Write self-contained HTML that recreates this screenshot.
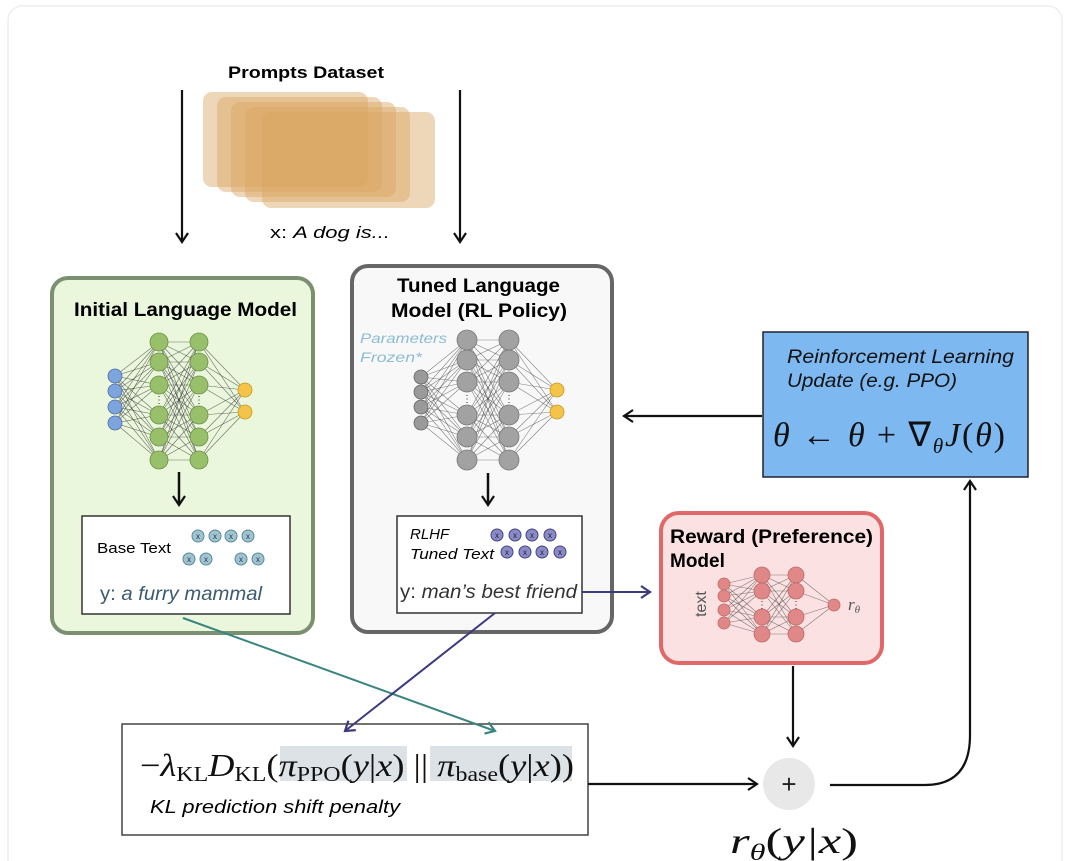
<!DOCTYPE html>
<html><head><meta charset="utf-8"><style>
html,body{margin:0;padding:0;background:#fff;}
svg{display:block;font-family:"Liberation Sans",sans-serif;}
.m{font-family:"Liberation Serif",serif;}
</style></head><body>
<svg id="s" width="1080" height="861" viewBox="0 0 1080 861" xmlns="http://www.w3.org/2000/svg">
<defs>
<marker id="ak" markerWidth="14" markerHeight="14" refX="10" refY="7" orient="auto" markerUnits="userSpaceOnUse"><path d="M1,1 L10,7 L1,13" fill="none" stroke="#111" stroke-width="2.2"/></marker>
<marker id="an" markerWidth="14" markerHeight="14" refX="10" refY="7" orient="auto" markerUnits="userSpaceOnUse"><path d="M1,1 L10,7 L1,13" fill="none" stroke="#3b3b80" stroke-width="2.2"/></marker>
<marker id="at" markerWidth="14" markerHeight="14" refX="10" refY="7" orient="auto" markerUnits="userSpaceOnUse"><path d="M1,1 L10,7 L1,13" fill="none" stroke="#3a8580" stroke-width="2.2"/></marker>
</defs>
<rect x="8" y="6" width="1054" height="870" rx="14" fill="#fff" stroke="#eee" stroke-width="1.5"/>

<text x="228" y="78" font-size="17" font-weight="bold" textLength="156" lengthAdjust="spacingAndGlyphs">Prompts Dataset</text>
<g fill="#d9a662" fill-opacity="0.45">
<rect x="203" y="92" width="165" height="95" rx="9"/>
<rect x="217" y="97" width="165" height="95" rx="9"/>
<rect x="231" y="102" width="165" height="95" rx="9"/>
<rect x="245" y="107" width="165" height="95" rx="9"/>
<rect x="262" y="112" width="173" height="96" rx="9"/>
</g>
<text x="270" y="238" font-size="17" textLength="120" lengthAdjust="spacingAndGlyphs">x: <tspan font-style="italic">A dog is...</tspan></text>
<line x1="182" y1="90" x2="182" y2="242" stroke="#111" stroke-width="2.2" marker-end="url(#ak)"/>
<line x1="460" y1="90" x2="460" y2="242" stroke="#111" stroke-width="2.2" marker-end="url(#ak)"/>

<rect x="52" y="278" width="261" height="355" rx="16" fill="#eaf7dc" stroke="#7a9070" stroke-width="4"/>
<text x="74" y="316" font-size="19" font-weight="bold" textLength="223" lengthAdjust="spacingAndGlyphs">Initial Language Model</text>
<g id="nn1"></g>
<line x1="179" y1="472" x2="179" y2="505" stroke="#111" stroke-width="2.5" marker-end="url(#ak)"/>
<rect x="82" y="516" width="208" height="98" fill="#fff" stroke="#333" stroke-width="1.5"/>
<text x="97" y="553" font-size="15" textLength="74" lengthAdjust="spacingAndGlyphs">Base Text</text>
<g fill="#9fc3cf" stroke="#5a8a9a" stroke-width="1">
<circle cx="198" cy="536" r="6"/><circle cx="215" cy="536" r="6"/><circle cx="231" cy="536" r="6"/><circle cx="248" cy="536" r="6"/>
<circle cx="189" cy="559" r="6"/><circle cx="206" cy="559" r="6"/><circle cx="241" cy="559" r="6"/><circle cx="258" cy="559" r="6"/>
</g>
<g font-size="8" text-anchor="middle" fill="#335">
<text x="198" y="539">x</text><text x="215" y="539">x</text><text x="231" y="539">x</text><text x="248" y="539">x</text>
<text x="189" y="562">x</text><text x="206" y="562">x</text><text x="241" y="562">x</text><text x="258" y="562">x</text>
</g>
<text x="100" y="600" font-size="19" fill="#3b5b6e" textLength="162" lengthAdjust="spacingAndGlyphs">y: <tspan font-style="italic">a furry mammal</tspan></text>

<rect x="352" y="266" width="260" height="366" rx="16" fill="#f8f8f8" stroke="#666" stroke-width="4"/>
<text x="397" y="292" font-size="19" font-weight="bold" textLength="163" lengthAdjust="spacingAndGlyphs">Tuned Language</text>
<text x="391" y="317" font-size="19" font-weight="bold" textLength="176" lengthAdjust="spacingAndGlyphs">Model (RL Policy)</text>
<text x="360" y="343" font-size="14" font-style="italic" fill="#8cbdd3" textLength="87" lengthAdjust="spacingAndGlyphs">Parameters</text>
<text x="360" y="362" font-size="14" font-style="italic" fill="#8cbdd3" textLength="62" lengthAdjust="spacingAndGlyphs">Frozen*</text>
<g id="nn2"></g>
<line x1="488" y1="473" x2="488" y2="505" stroke="#111" stroke-width="2.5" marker-end="url(#ak)"/>
<rect x="397" y="516" width="185" height="97" fill="#fff" stroke="#333" stroke-width="1.5"/>
<text x="410" y="539" font-size="15" font-style="italic">RLHF</text>
<text x="410" y="559" font-size="15" font-style="italic" textLength="84" lengthAdjust="spacingAndGlyphs">Tuned Text</text>
<g fill="#8a8ac8" stroke="#44447a" stroke-width="1">
<circle cx="497" cy="535" r="6"/><circle cx="515" cy="535" r="6"/><circle cx="532" cy="535" r="6"/><circle cx="550" cy="535" r="6"/>
<circle cx="507" cy="552" r="6"/><circle cx="525" cy="552" r="6"/><circle cx="542" cy="552" r="6"/><circle cx="560" cy="552" r="6"/>
</g>
<g font-size="8" text-anchor="middle" fill="#223">
<text x="497" y="538">x</text><text x="515" y="538">x</text><text x="532" y="538">x</text><text x="550" y="538">x</text>
<text x="507" y="555">x</text><text x="525" y="555">x</text><text x="542" y="555">x</text><text x="560" y="555">x</text>
</g>
<text x="400" y="598" font-size="19" fill="#333" textLength="177" lengthAdjust="spacingAndGlyphs">y: <tspan font-style="italic">man’s best friend</tspan></text>

<rect x="763" y="332" width="265" height="145" fill="#7db8f0" stroke="#223" stroke-width="1.5"/>
<text x="787" y="363" font-size="19" font-style="italic" fill="#111" textLength="227" lengthAdjust="spacingAndGlyphs">Reinforcement Learning</text>
<text x="787" y="387" font-size="19" font-style="italic" fill="#111" textLength="170" lengthAdjust="spacingAndGlyphs">Update (e.g. PPO)</text>
<text x="773" y="446" class="m" font-size="34" fill="#111" textLength="232" lengthAdjust="spacing"><tspan font-style="italic">θ</tspan> ← <tspan font-style="italic">θ</tspan> + ∇<tspan font-size="21" font-style="italic" dy="7">θ</tspan><tspan dy="-7" font-style="italic">J</tspan>(<tspan font-style="italic">θ</tspan>)</text>
<line x1="762" y1="416" x2="624" y2="416" stroke="#111" stroke-width="2.2" marker-end="url(#ak)"/>

<rect x="661" y="513" width="221" height="150" rx="18" fill="#fbe1e1" stroke="#e06868" stroke-width="4"/>
<text x="670" y="543" font-size="19" font-weight="bold" textLength="203" lengthAdjust="spacingAndGlyphs">Reward (Preference)</text>
<text x="670" y="567" font-size="19" font-weight="bold">Model</text>
<text x="706" y="604" font-size="16" fill="#555" text-anchor="middle" transform="rotate(-90 706 604)">text</text>
<g id="nn3"></g>
<text x="848" y="610" class="m" font-size="17" font-style="italic" fill="#555">r<tspan font-size="11" dy="3">θ</tspan></text>
<line x1="582" y1="592" x2="650" y2="592" stroke="#3b3b80" stroke-width="2" marker-end="url(#an)"/>

<rect x="122" y="724" width="466" height="111" fill="#fff" stroke="#444" stroke-width="1.5"/>
<rect x="280" y="746" width="127" height="35" fill="#dde2e6"/>
<rect x="430" y="746" width="142" height="35" fill="#dde2e6"/>
<text x="140" y="776" class="m" font-size="32" fill="#111" textLength="434" lengthAdjust="spacingAndGlyphs">−<tspan font-style="italic">λ</tspan><tspan font-size="21" dy="5">KL</tspan><tspan dy="-5" font-style="italic">D</tspan><tspan font-size="21" dy="5">KL</tspan><tspan dy="-5">(</tspan><tspan font-style="italic">π</tspan><tspan font-size="21" dy="5">PPO</tspan><tspan dy="-5">(</tspan><tspan font-style="italic">y</tspan>|<tspan font-style="italic">x</tspan>) || <tspan font-style="italic">π</tspan><tspan font-size="21" dy="5">base</tspan><tspan dy="-5">(</tspan><tspan font-style="italic">y</tspan>|<tspan font-style="italic">x</tspan>))</text>
<text x="150" y="813" font-size="18" font-style="italic" textLength="250" lengthAdjust="spacingAndGlyphs">KL prediction shift penalty</text>

<line x1="183" y1="618" x2="495" y2="731" stroke="#3a8580" stroke-width="2" marker-end="url(#at)"/>
<line x1="495" y1="613" x2="345" y2="731" stroke="#3b3b80" stroke-width="2" marker-end="url(#an)"/>

<line x1="588" y1="784" x2="757" y2="784" stroke="#111" stroke-width="2.2" marker-end="url(#ak)"/>
<line x1="793" y1="666" x2="793" y2="746" stroke="#111" stroke-width="2.2" marker-end="url(#ak)"/>
<circle cx="789" cy="784" r="26" fill="#e8e8e8"/>
<text x="789" y="793" font-size="26" text-anchor="middle" fill="#222">+</text>
<path d="M830,785 H925 Q970,785 970,735 V481" fill="none" stroke="#111" stroke-width="2.2" marker-end="url(#ak)"/>
<text x="730" y="853" class="m" font-size="36" font-style="italic" fill="#111" textLength="128" lengthAdjust="spacingAndGlyphs">r<tspan font-size="23" dy="7">θ</tspan><tspan dy="-7" font-style="normal">(</tspan>y|x<tspan font-style="normal">)</tspan></text>
</svg>
<script>
function nn(id,layers,op){
 var g=document.getElementById(id),h='';
 for(var l=0;l<layers.length-1;l++){var A=layers[l],B=layers[l+1];
  for(var i=0;i<A.ys.length;i++)for(var j=0;j<B.ys.length;j++)
   h+='<line x1="'+A.x+'" y1="'+A.ys[i]+'" x2="'+B.x+'" y2="'+B.ys[j]+'" stroke="#333" stroke-width="0.6" opacity="'+op+'"/>';}
 layers.forEach(function(L){L.ys.forEach(function(y){h+='<circle cx="'+L.x+'" cy="'+y+'" r="'+L.r+'" fill="'+L.f+'" stroke="'+L.s+'" stroke-width="0.8"/>';});
  if(L.dots)h+='<text x="'+L.x+'" y="'+L.dots+'" font-size="10" text-anchor="middle" fill="#333">⋮</text>';});
 g.innerHTML=h;}
var H=[342,362,385,415,437,460];
nn('nn1',[{x:115,ys:[376,391,407,423],r:7,f:'#7da4dc',s:'#4a70a8'},{x:159,ys:H,r:9,f:'#98bf6a',s:'#6a8f44',dots:403},{x:199,ys:H,r:9,f:'#98bf6a',s:'#6a8f44',dots:403},{x:245,ys:[390,412],r:7,f:'#f4c44a',s:'#c89a20'}],0.7);
var G=[340,360,382,415,437,460];
nn('nn2',[{x:421,ys:[377,392,407,423],r:7,f:'#9a9a9a',s:'#666'},{x:467,ys:G,r:10,f:'#a2a2a2',s:'#777',dots:402},{x:509,ys:G,r:10,f:'#a2a2a2',s:'#777',dots:402},{x:557,ys:[390,412],r:7,f:'#f4c44a',s:'#c89a20'}],0.6);
nn('nn3',[{x:724,ys:[584,596,610,623],r:6,f:'#e08888',s:'#c06868'},{x:762,ys:[575,591,617,634],r:8,f:'#e08888',s:'#c06868',dots:608},{x:796,ys:[575,591,617,634],r:8,f:'#e08888',s:'#c06868',dots:608},{x:834,ys:[605],r:6,f:'#e08888',s:'#c06868'}],0.6);
</script>
</body></html>
